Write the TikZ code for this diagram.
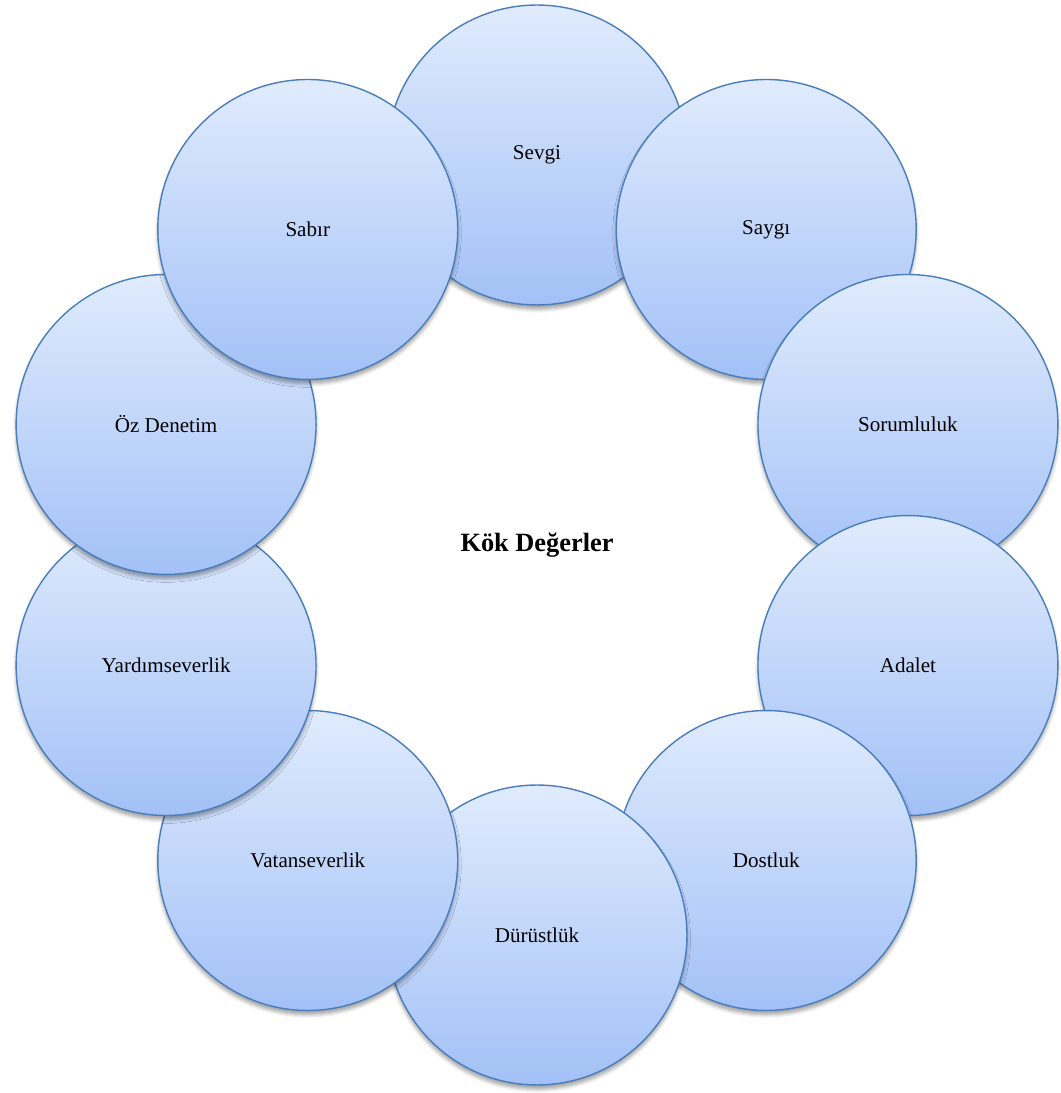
\documentclass[tikz,border=0pt]{standalone}
\usepackage{fontspec}
\setmainfont{Liberation Serif}
\usetikzlibrary{calc,shadows.blur}
\definecolor{ringline}{HTML}{4A7EBB}
\definecolor{ringtop}{HTML}{E0EBFD}
\definecolor{ringbot}{HTML}{A3C1F7}
\begin{document}
\begin{tikzpicture}[x=0.02cm, y=0.02cm, font=\fontsize{12}{14}\selectfont,
        value/.style={circle, draw=ringline, line width=0.8pt,
          minimum size=6cm, inner sep=0pt,
          top color=ringtop, bottom color=ringbot,
          blur shadow={shadow xshift=0pt, shadow yshift=-2.5pt,
            shadow blur radius=2pt, shadow opacity=35}},
        hub/.style={font=\fontsize{15}{18}\selectfont\bfseries}]
      \useasboundingbox (0,0) rectangle (1061,1093);
      \coordinate (mid) at (537,548);
      \node[hub] (root) at (mid) {Kök Değerler};
      \foreach \lbl [count=\i] in {Sevgi,Saygı,Sorumluluk,Adalet,Dostluk,
          Dürüstlük,Vatanseverlik,Yardımseverlik,Öz Denetim,Sabır}
        \node[value] (v\i) at ($(mid)+({90-36*(\i-1)}:390)$) {\lbl};
      \end{tikzpicture}
\end{document}
